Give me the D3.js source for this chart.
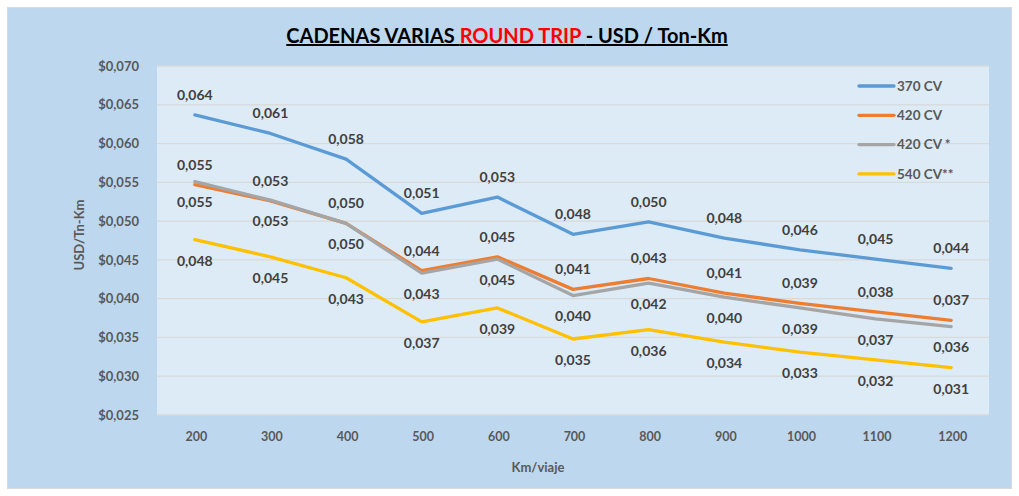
<!DOCTYPE html>
<html><head><meta charset="utf-8">
<script src="https://cdn.jsdelivr.net/npm/d3@7"></script>
<style>html,body{margin:0;padding:0;background:#fff;}svg{display:block;font-family:Lato,"Open Sans",sans-serif;}</style>
</head><body>
<svg id="c" width="1019" height="496"></svg>
<script>
const categories = [200,300,400,500,600,700,800,900,1000,1100,1200];
const s370  = [0.0637,0.0613,0.0580,0.0510,0.0531,0.0483,0.0499,0.0478,0.0463,0.0451,0.0439];
const s420  = [0.0547,0.0526,0.0497,0.0436,0.0454,0.0412,0.0426,0.0407,0.0394,0.0383,0.0372];
const s420b = [0.0551,0.0527,0.0497,0.0433,0.0451,0.0404,0.0420,0.0402,0.0388,0.0374,0.0364];
const s540  = [0.0476,0.0454,0.0427,0.0370,0.0388,0.0348,0.0360,0.0344,0.0331,0.0321,0.0311];
const seriesNames = ["370 CV","420 CV","420 CV *","540 CV**"];
const yTicks = [0.025,0.030,0.035,0.040,0.045,0.050,0.055,0.060,0.065,0.070];

const series = [
  {name:seriesNames[0], values:s370,  color:"#5B9BD5", labelDy:-20},
  {name:seriesNames[1], values:s420,  color:"#ED7D31", labelDy:-20},
  {name:seriesNames[2], values:s420b, color:"#A5A5A5", labelDy:21},
  {name:seriesNames[3], values:s540,  color:"#FFC000", labelDy:21}
];

const svg = d3.select("#c");
svg.append("rect").attr("x",7.5).attr("y",7.5).attr("width",1004).attr("height",481)
  .attr("fill","#BDD7EE").attr("stroke","#D9D9D9").attr("stroke-width",1);

const L=157, R=989, T=66, B=415;
svg.append("rect").attr("x",L).attr("y",T).attr("width",R-L).attr("height",B-T).attr("fill","#DDEBF7");

const x = d3.scalePoint().domain(categories).range([L,R]).padding(0.5);
const y = d3.scaleLinear().domain([0.025,0.070]).range([B,T]);

const comma = v => v.toFixed(3).replace(".",",");

svg.append("g").selectAll("line").data(yTicks).join("line")
  .attr("x1",L).attr("x2",R).attr("y1",d=>y(d)).attr("y2",d=>y(d))
  .attr("stroke","#D9D9D9").attr("stroke-width",1.3);

const yAxis = d3.axisLeft(y).tickValues(yTicks).tickSize(0).tickPadding(0)
  .tickFormat(d=>"$"+comma(d));
const gy = svg.append("g").attr("transform",`translate(139,0)`).call(yAxis);
gy.select(".domain").remove();
gy.selectAll("text").attr("fill","#595959").attr("font-size",13).attr("font-weight","bold")
  .attr("font-family","Lato");

const xAxis = d3.axisBottom(x).tickSize(0).tickPadding(0);
const gx = svg.append("g").attr("transform",`translate(1,432)`).call(xAxis);
gx.select(".domain").remove();
gx.selectAll("text").attr("fill","#595959").attr("font-size",12.5).attr("font-weight","bold")
  .attr("font-family","Lato");

svg.append("text").attr("x",538).attr("y",472).attr("text-anchor","middle")
  .attr("fill","#595959").attr("font-size",13).attr("font-weight","bold").text("Km/viaje");
svg.append("text").attr("transform","translate(84,235) rotate(-90)").attr("text-anchor","middle")
  .attr("fill","#595959").attr("font-size",13).attr("font-weight","bold").text("USD/Tn-Km");

const line = d3.line().x((d,i)=>x(categories[i])).y(d=>y(d));
svg.append("g").selectAll("path").data(series).join("path")
  .attr("d",d=>line(d.values)).attr("fill","none").attr("stroke",d=>d.color)
  .attr("stroke-width",3.3).attr("stroke-linejoin","round").attr("stroke-linecap","round");

series.forEach(s=>{
  svg.append("g").selectAll("text").data(s.values).join("text")
    .attr("x",(d,i)=>x(categories[i]))
    .attr("y",d=>y(d)+s.labelDy)
    .attr("dy","0.35em").attr("text-anchor","middle")
    .attr("fill","#404040").attr("font-size",14).attr("font-weight","bold")
    .text(d=>comma(d));
});

const lg = svg.append("g").selectAll("g").data(series).join("g")
  .attr("transform",(d,i)=>`translate(859,${86+i*29.3})`);
lg.append("line").attr("x1",0).attr("x2",35).attr("y1",0).attr("y2",0)
  .attr("stroke",d=>d.color).attr("stroke-width",3.3).attr("stroke-linecap","round");
lg.append("text").attr("x",38).attr("dy","0.35em").attr("fill","#595959")
  .attr("font-size",13.5).attr("font-weight","bold").text(d=>d.name);

const title = svg.append("text").attr("x",507).attr("y",43).attr("text-anchor","middle")
  .attr("font-size",20).attr("font-weight","bold").attr("text-decoration","underline")
  .attr("font-family","Lato");
title.append("tspan").attr("fill","#000").text("CADENAS VARIAS ");
title.append("tspan").attr("fill","#FF0000").text("ROUND TRIP ");
title.append("tspan").attr("fill","#000").text("- USD / Ton-Km");
</script>
</body></html>
